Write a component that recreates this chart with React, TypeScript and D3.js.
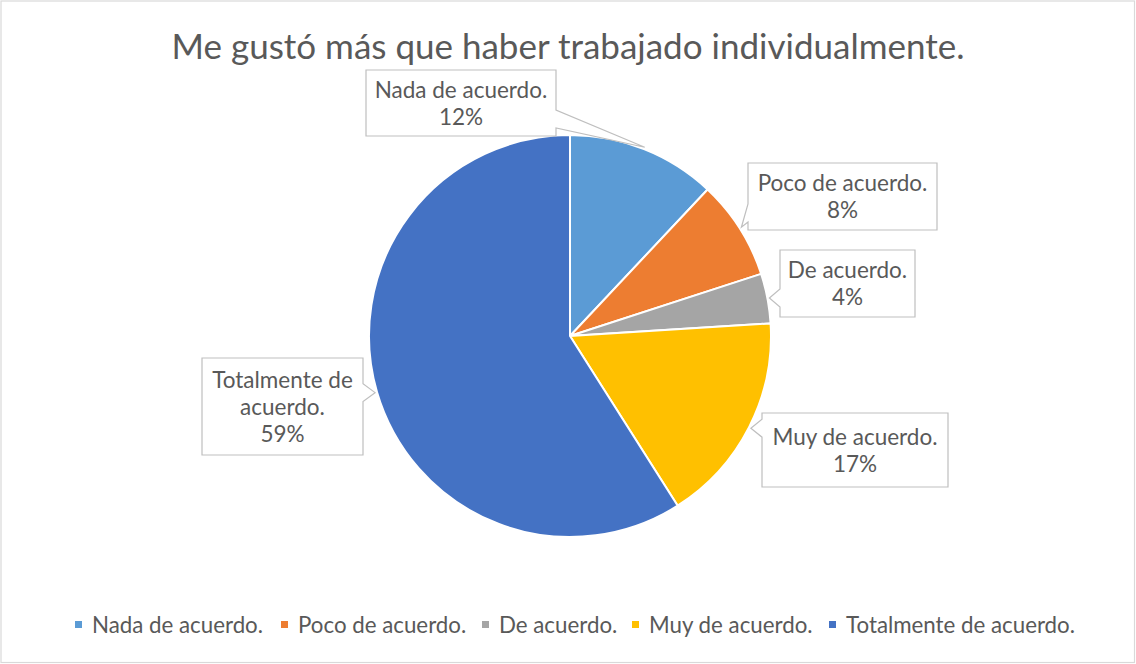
import React from "react";
import * as d3 from "d3";

const categories = ["Nada de acuerdo.", "Poco de acuerdo.", "De acuerdo.", "Muy de acuerdo.", "Totalmente de acuerdo."];
const values = [12, 8, 4, 17, 59];
const colors = ["#5B9BD5", "#ED7D31", "#A5A5A5", "#FFC000", "#4472C4"];
const labelLines = [
  ["Nada de acuerdo.", "12%"],
  ["Poco de acuerdo.", "8%"],
  ["De acuerdo.", "4%"],
  ["Muy de acuerdo.", "17%"],
  ["Totalmente de", "acuerdo.", "59%"],
];
const title = "Me gustó más que haber trabajado individualmente.";

// layout of callout boxes (x, y, w, h)
const boxes = [
  { x: 366, y: 70, w: 190, h: 66 },
  { x: 748, y: 163, w: 189, h: 67 },
  { x: 780, y: 250, w: 135, h: 67 },
  { x: 762, y: 413, w: 186, h: 74 },
  { x: 202, y: 358, w: 161, h: 97 },
];
const legendX = [75, 281, 482, 632, 829];

const W = 1136, H = 664;
const cx = 570, cy = 336, R = 201;
const FONT = "Lato, 'Open Sans', sans-serif";
const TXT = "#595959";

function calloutPath(b: { x: number; y: number; w: number; h: number }, tx: number, ty: number) {
  const right = tx > b.x + b.w;
  const hw = 9;
  const c = Math.max(b.y + 10, Math.min(b.y + b.h - 17, ty));
  const y1 = c - hw, y2 = c + hw;
  const L = b.x, Rr = b.x + b.w, T = b.y, B = b.y + b.h;
  if (right) {
    return `M${L},${T}L${Rr},${T}L${Rr},${y1}L${tx},${ty}L${Rr},${y2}L${Rr},${B}L${L},${B}Z`;
  }
  return `M${L},${T}L${Rr},${T}L${Rr},${B}L${L},${B}L${L},${y2}L${tx},${ty}L${L},${y1}Z`;
}

export default function App() {
  const pie = d3.pie<number>().sort(null).value((d) => d)(values);
  const arc = d3.arc<d3.PieArcDatum<number>>().innerRadius(0).outerRadius(R);
  return (
    <svg width={W} height={H} style={{ position: "absolute", left: 0, top: 0 }}>
      <rect x={1} y={1} width={W - 2.5} height={H - 2.5} fill="#fff" stroke="#D9D9D9" strokeWidth={1.2} />
      <text x={568} y={59} textAnchor="middle" fontFamily={FONT} fontSize={35} fill={TXT}>{title}</text>
      <g transform={`translate(${cx},${cy})`}>
        {pie.map((p, i) => (
          <path key={i} d={arc(p) || ""} fill={colors[i]} stroke="#fff" strokeWidth={2} />
        ))}
      </g>
      {pie.map((p, i) => {
        const a = (p.startAngle + p.endAngle) / 2;
        const tx = cx + (R + 2) * Math.sin(a);
        const ty = cy - (R + 2) * Math.cos(a);
        const b = boxes[i];
        const lines = labelLines[i];
        const lh = 27;
        const mid = b.y + b.h / 2;
        const start = mid - ((lines.length - 1) * lh) / 2;
        return (
          <g key={i}>
            <path d={calloutPath(b, tx, ty)} fill="#fff" stroke="#BFBFBF" strokeWidth={1.2} />
            {lines.map((t, j) => (
              <text key={j} x={b.x + b.w / 2} y={start + j * lh} dy="0.36em" textAnchor="middle" fontFamily={FONT} fontSize={22.5} fill={TXT}>{t}</text>
            ))}
          </g>
        );
      })}
      {categories.map((c, i) => (
        <g key={i}>
          <rect x={legendX[i]} y={621} width={7} height={7} fill={colors[i]} />
          <text x={legendX[i] + 17} y={625} dy="0.36em" fontFamily={FONT} fontSize={22.3} fill={TXT}>{c}</text>
        </g>
      ))}
    </svg>
  );
}
